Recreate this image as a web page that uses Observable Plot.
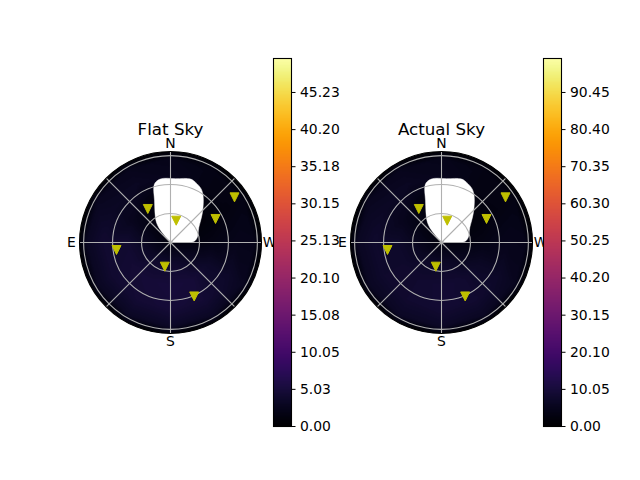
<!DOCTYPE html>
<html><head><meta charset="utf-8">
<script src="https://cdn.jsdelivr.net/npm/d3@7"></script>
<script src="https://cdn.jsdelivr.net/npm/@observablehq/plot@0.6"></script>
<style>
body{margin:0;background:#fff;}
#fig{position:relative;width:640px;height:480px;background:#fff;overflow:hidden;}
</style></head><body><div id="fig"></div>
<script>
const R = Math.PI / 2;
const panelTitles = ["Flat Sky", "Actual Sky"];
const compassLabels = ["N", "E", "S", "W"];
const compassAz = [0, 90, 180, 270];
const ringZen = [0.5, 1.0, 1.5];
const spokeAz = [0, 45, 90, 135, 180, 225, 270, 315];

// markers (azimuth deg N->E, zenith rad)
const markerAz = [34.1, 345.3, 305.2, 297.6, 97.9, 166.7, 203.7];
const markerZen = [0.699, 0.389, 1.352, 0.877, 0.941, 0.429, 1.017];

// masked (no data) region outline
const maskAz = [0, 39.4, 34.9, 20.9, 15.3, 8.95, 355.5, 342.5, 337.4, 330.2, 324, 312, 298.1, 280.8, 272.7, 279.5];
const maskZen = [0.02, 0.226, 0.423, 0.773, 1.047, 1.110, 1.105, 1.149, 1.124, 1.065, 0.962, 0.736, 0.554, 0.469, 0.403, 0.053];

// heat map samples
const heatAz = [0, 30, 60, 90, 120, 150, 180, 210, 240, 270, 300, 330];
const heatZen = [0.35, 0.75, 1.15, 1.45, 1.62];
const flatCenter = 1.2;
const flatHeat = [
  [0.8, 1.2, 1.8, 2.6, 3.2, 3.8, 3.8, 3.4, 2.5, 1.3, 0.8, 0.8],
  [0.8, 1.5, 2.6, 4.2, 4.5, 4.8, 5.0, 4.8, 3.6, 1.8, 1.0, 0.8],
  [2.5, 3.0, 3.2, 4.2, 4.2, 4.5, 4.8, 4.5, 3.6, 2.3, 1.5, 1.8],
  [2.2, 2.5, 2.8, 3.0, 3.0, 3.2, 3.4, 3.2, 2.8, 2.2, 1.8, 1.8],
  [0.3, 0.3, 0.3, 0.3, 0.3, 0.3, 0.3, 0.3, 0.3, 0.3, 0.3, 0.3]
];
const actualCenter = 2.5;
const actualHeat = [
  [1.8, 2.5, 3.5, 4.8, 5.8, 6.8, 6.8, 6.2, 4.5, 2.8, 1.8, 1.8],
  [1.8, 3.0, 5.0, 7.4, 7.8, 8.2, 8.8, 8.4, 6.6, 3.8, 2.2, 1.8],
  [5.0, 6.0, 6.5, 7.8, 7.8, 8.2, 8.8, 8.4, 7.0, 4.8, 3.2, 3.5],
  [4.5, 5.0, 5.5, 6.0, 6.0, 6.5, 6.8, 6.2, 5.5, 4.5, 3.5, 3.5],
  [0.6, 0.6, 0.6, 0.6, 0.6, 0.6, 0.6, 0.6, 0.6, 0.6, 0.6, 0.6]
];

const flatVmax = 49.83;
const actualVmax = 99.65;
const flatTicks = [0, 5.03, 10.05, 15.08, 20.10, 25.13, 30.15, 35.18, 40.20, 45.23];
const actualTicks = [0, 10.05, 20.10, 30.15, 40.20, 50.25, 60.30, 70.35, 80.40, 90.45];

const FONT = "DejaVu Sans, sans-serif";
const toXY = (az, zen) => ({x: -zen * Math.sin(az * Math.PI / 180), y: zen * Math.cos(az * Math.PI / 180)});

const triDown = {
  draw(context, size) {
    const s = Math.sqrt(size / Math.PI);
    context.moveTo(-s, -s);
    context.lineTo(s, -s);
    context.lineTo(0, s);
    context.closePath();
  }
};

const fig = document.getElementById("fig");
let clipCount = 0;

function place(el, left, top) {
  el.style.position = "absolute";
  el.style.left = left + "px";
  el.style.top = top + "px";
  fig.appendChild(el);
}

function polar(title, center, heat, vmax) {
  const samples = [{...toXY(0, 0), v: center}];
  heatZen.forEach((z, i) => heatAz.forEach((a, j) => samples.push({...toXY(a, z), v: heat[i][j]})));
  const markers = markerAz.map((a, i) => toXY(a, markerZen[i]));
  const mask = maskAz.map((a, i) => toXY(a, maskZen[i]));
  const labels = compassLabels.map((t, i) => ({t, ...toXY(compassAz[i], 1.71)}));
  const plot = Plot.plot({
    width: 260, height: 260, margin: 39,
    x: {domain: [-R, R], axis: null},
    y: {domain: [-R, R], axis: null},
    r: {type: "linear", domain: [0, R], range: [0, 91]},
    color: {type: "linear", scheme: "inferno", domain: [0, vmax]},
    style: {fontFamily: FONT, fontSize: "13.9px", background: "transparent", overflow: "visible", color: "black"},
    marks: [
      Plot.raster(samples, {x: "x", y: "y", fill: "v", interpolate: "barycentric", x1: -R, x2: R, y1: -R, y2: R}),
      Plot.line(mask, {x: "x", y: "y", fill: "white", stroke: "white", strokeWidth: 0.5, curve: "catmull-rom-closed"}),
      Plot.dot(ringZen, {x: 0, y: 0, r: d => d, stroke: "#b0b0b0", strokeWidth: 1.1, fill: "none"}),
      Plot.link(spokeAz, {x1: 0, y1: 0, x2: a => toXY(a, R).x, y2: a => toXY(a, R).y, stroke: "#b0b0b0", strokeWidth: 1.1}),
      Plot.dot([R], {x: 0, y: 0, r: d => d, stroke: "black", strokeWidth: 1.1, fill: "none"}),
      Plot.dot(markers, {x: "x", y: "y", r: 4.5, symbol: triDown, fill: "#bfbf00", stroke: "#bfbf00", strokeWidth: 1}),
      Plot.text(labels, {x: "x", y: "y", text: "t", fontSize: 13.9, fill: "black"}),
      Plot.text([title], {frameAnchor: "top", dy: -28, fontSize: 16.7, fill: "black"})
    ]
  });
  const sx = plot.scale("x"), sy = plot.scale("y");
  const cx = sx.apply(0), cy = sy.apply(0), rr = sx.apply(R) - cx;
  const id = "polarclip" + (clipCount++);
  const svg = d3.select(plot);
  svg.insert("defs", ":first-child").append("clipPath").attr("id", id)
    .append("circle").attr("cx", cx).attr("cy", cy).attr("r", rr);
  svg.selectAll('g[aria-label="raster"]').attr("clip-path", `url(#${id})`);
  return plot;
}

function colorbar(vmax, ticks) {
  return Plot.plot({
    width: 88, height: 398, marginLeft: 10, marginRight: 60, marginTop: 10, marginBottom: 20,
    x: {domain: [0, 1], axis: null},
    y: {domain: [0, vmax], axis: null},
    color: {type: "linear", scheme: "inferno", domain: [0, vmax]},
    style: {fontFamily: FONT, fontSize: "13.9px", background: "transparent", overflow: "visible", color: "black"},
    marks: [
      Plot.raster({x1: 0, x2: 1, y1: 0, y2: vmax, fill: (x, y) => y}),
      Plot.frame({stroke: "black", strokeWidth: 1.1}),
      Plot.axisY(ticks, {anchor: "right", tickFormat: d3.format(".2f"), tickSize: 3.5, tickPadding: 5, fontSize: 13.9, stroke: "black", fill: "black", label: null})
    ]
  });
}

place(polar(panelTitles[0], flatCenter, flatHeat, flatVmax), 40, 111.8);
place(polar(panelTitles[1], actualCenter, actualHeat, actualVmax), 311.2, 111.8);
place(colorbar(flatVmax, flatTicks), 262.7, 48.3);
place(colorbar(actualVmax, actualTicks), 532.7, 48.3);
</script></body></html>
